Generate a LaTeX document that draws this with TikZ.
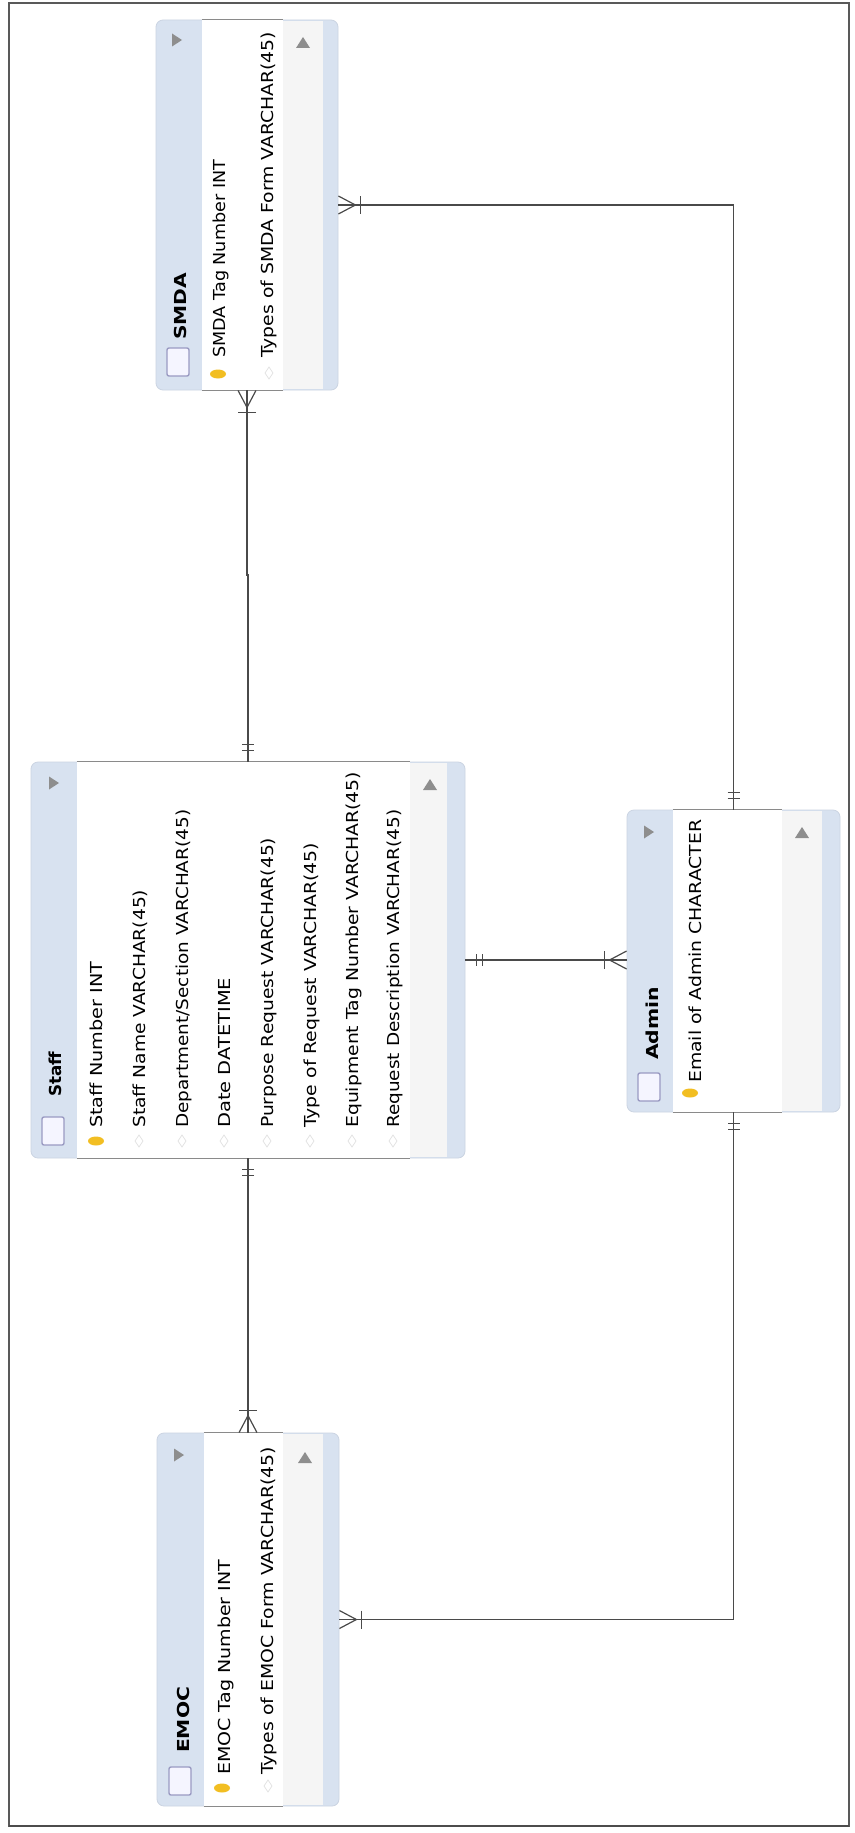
\documentclass[tikz,border=0pt]{standalone}
\usepackage{fontspec}
\setmainfont{DejaVu Sans}
\usepackage{graphicx}
\usetikzlibrary{fit,calc}

\definecolor{hdrblue}{HTML}{D8E2F0}
\definecolor{framegray}{HTML}{CBD4E2}
\definecolor{idxgray}{HTML}{F5F5F5}
\definecolor{relgray}{HTML}{4A4A4A}
\definecolor{edgegray}{HTML}{8A8A8A}
\definecolor{triangray}{HTML}{8E8E8E}
\definecolor{keygold}{HTML}{F2BE22}
\definecolor{iconlilac}{HTML}{9A9AC2}

% stretch a text horizontally to a given length (in pt)
\newsavebox\fitbox
\newcommand\stretchto[2]{\sbox\fitbox{#2}\pgfmathsetmacro\stretchfac{#1/\the\wd\fitbox}\scalebox{\stretchfac}[1]{\usebox\fitbox}}

\tikzset{
  tablebox/.style={draw=framegray, fill=hdrblue, rounded corners=7pt, inner sep=0pt, line width=0.8pt},
  attrcol/.style={fill=white, draw=none, inner sep=0pt},
  idxcol/.style={fill=idxgray, draw=none, inner sep=0pt},
  coledge/.style={draw=edgegray, line width=1.1pt},
  attr/.style={rotate=90, anchor=base west, inner sep=0pt, font=\fontsize{16.5}{18}\selectfont, text=black},
  tabletitle/.style={rotate=90, anchor=base west, inner sep=0pt, font=\fontsize{16.5}{18}\selectfont\bfseries, text=black},
  rel/.style={draw=relgray, line width=1.4pt},
  relmark/.style={draw=relgray, line width=1.2pt},
  tblicon/.style={draw=iconlilac, line width=1.4pt, fill=blue!4, rounded corners=2pt},
  keyicon/.style={fill=keygold},
  fainticon/.style={draw=gray!22, line width=0.8pt},
}

% crow's foot with bar (one or many), drawn outward from the table edge
\newcommand\crowsfoot[2]{%
  \begin{scope}[shift={(#1)}, rotate=#2]
    \draw[relmark] (0,-9) -- (17,0) -- (0,9);
    \draw[relmark] (22,-9) -- (22,9);
  \end{scope}}
% double bar (one and only one)
\newcommand\onlyone[2]{%
  \begin{scope}[shift={(#1)}, rotate=#2]
    \draw[relmark] (11,-6) -- (11,6) (17,-6) -- (17,6);
  \end{scope}}
% header triangle and index triangle
\newcommand\hdrarrow[2]{\fill[triangray] (#1-4,#2-6.5) -- (#1+6,#2) -- (#1-4,#2+6.5) -- cycle;}
\newcommand\idxarrow[2]{\fill[triangray] (#1-7,#2+5) -- (#1,#2-6) -- (#1+7,#2+5) -- cycle;}
\newcommand\tableicon[2]{\draw[tblicon] (#1-11,#2-14) rectangle (#1+11,#2+14);}
\newcommand\pkey[2]{\fill[keyicon] (#1,#2) ellipse [x radius=8, y radius=4.5];}
\newcommand\colmark[2]{\draw[fainticon] (#1,#2-6) -- (#1+4,#2) -- (#1,#2+6) -- (#1-4,#2) -- cycle;}

\begin{document}
\begin{tikzpicture}[x=1pt, y=-1pt]
\useasboundingbox (0,0) rectangle (854,1833);
\fill[white] (0,0) rectangle (854,1833);
\draw[draw=black!65, line width=1.4pt] (9,3) rectangle (849,1826);
\draw[draw=black!70, line width=2.4pt] (9,1826) -- (849,1826);

% ---------- SMDA ----------
\node[tablebox, fit={(156,20) (338,390)}] (smda) {};
\node[attrcol, fit={(202,20) (283,390)}] (smda-cols) {};
\node[idxcol, fit={(283,21) (323,389)}] (smda-idx) {};
\draw[coledge] (smda-cols.north west) -- (smda-cols.north east);
\draw[coledge] (smda-cols.south west) -- (smda-cols.south east);
\hdrarrow{176}{40}
\idxarrow{303}{43}
\tableicon{178}{362}
\node[tabletitle] (smda-title) at (186,340) {\stretchto{67}{SMDA}};
\pkey{218}{374}
\colmark{269}{373}
\node[attr] (smda-a1) at (225,358) {\stretchto{198}{SMDA Tag Number INT}};
\node[attr] (smda-a2) at (273,358) {\stretchto{326}{Types of SMDA Form VARCHAR(45)}};

% ---------- Staff ----------
\node[tablebox, fit={(31,762) (465,1158)}] (staff) {};
\node[attrcol, fit={(77,762) (410,1158)}] (staff-cols) {};
\node[idxcol, fit={(410,763) (447,1157)}] (staff-idx) {};
\draw[coledge] (staff-cols.north west) -- (staff-cols.north east);
\draw[coledge] (staff-cols.south west) -- (staff-cols.south east);
\hdrarrow{53}{783}
\idxarrow{430}{785}
\tableicon{53}{1131}
\node[tabletitle] (staff-title) at (61,1097) {\stretchto{45}{Staff}};
\pkey{96}{1141}
\foreach \cx in {139,182,224,267,310,352,393} {\colmark{\cx}{1141}}
\node[attr] (staff-a1) at (102,1128) {\stretchto{166}{Staff Number INT}};
\node[attr] (staff-a2) at (145,1128) {\stretchto{238}{Staff Name VARCHAR(45)}};
\node[attr] (staff-a3) at (188,1128) {\stretchto{318}{Department/Section VARCHAR(45)}};
\node[attr] (staff-a4) at (230,1128) {\stretchto{150}{Date DATETIME}};
\node[attr] (staff-a5) at (273,1128) {\stretchto{290}{Purpose Request VARCHAR(45)}};
\node[attr] (staff-a6) at (316,1128) {\stretchto{285}{Type of Request VARCHAR(45)}};
\node[attr] (staff-a7) at (358,1128) {\stretchto{356}{Equipment Tag Number VARCHAR(45)}};
\node[attr] (staff-a8) at (399,1128) {\stretchto{318}{Request Description VARCHAR(45)}};

% ---------- Admin ----------
\node[tablebox, fit={(627,810) (840,1112)}] (admin) {};
\node[attrcol, fit={(673,810) (782,1112)}] (admin-cols) {};
\node[idxcol, fit={(782,811) (822,1111)}] (admin-idx) {};
\draw[coledge] (admin-cols.north west) -- (admin-cols.north east);
\draw[coledge] (admin-cols.south west) -- (admin-cols.south east);
\hdrarrow{648}{832}
\idxarrow{802}{833}
\tableicon{649}{1087}
\node[tabletitle] (admin-title) at (658,1060) {\stretchto{73}{Admin}};
\pkey{690}{1093}
\node[attr] (admin-a1) at (701,1083) {\stretchto{263}{Email of Admin CHARACTER}};

% ---------- EMOC ----------
\node[tablebox, fit={(157,1433) (339,1806)}] (emoc) {};
\node[attrcol, fit={(204,1433) (283,1806)}] (emoc-cols) {};
\node[idxcol, fit={(283,1434) (323,1805)}] (emoc-idx) {};
\draw[coledge] (emoc-cols.north west) -- (emoc-cols.north east);
\draw[coledge] (emoc-cols.south west) -- (emoc-cols.south east);
\hdrarrow{178}{1455}
\idxarrow{305}{1458}
\tableicon{180}{1781}
\node[tabletitle] (emoc-title) at (189,1753) {\stretchto{66}{EMOC}};
\pkey{222}{1788}
\colmark{268}{1786}
\node[attr] (emoc-a1) at (230,1775) {\stretchto{215}{EMOC Tag Number INT}};
\node[attr] (emoc-a2) at (273,1775) {\stretchto{328}{Types of EMOC Form VARCHAR(45)}};

% ---------- relationships ----------
\draw[rel] (smda.south) -- (smda.south |- 0,575) -- (staff.north |- 0,575) -- (staff.north);
\crowsfoot{smda.south}{-90}
\onlyone{staff.north}{90}

\draw[rel] (staff.south) -- (staff.south |- emoc.north);
\onlyone{staff.south}{-90}
\crowsfoot{staff.south |- emoc.north}{90}

\draw[rel] (staff.east) -- (staff.east -| admin.west);
\onlyone{staff.east}{0}
\crowsfoot{staff.east -| admin.west}{180}

\draw[rel] (smda.east) -| (admin.north);
\crowsfoot{smda.east}{0}
\onlyone{admin.north}{90}

\draw[rel] (emoc.east) -| (admin.south);
\crowsfoot{emoc.east}{0}
\onlyone{admin.south}{-90}
\end{tikzpicture}
\end{document}
